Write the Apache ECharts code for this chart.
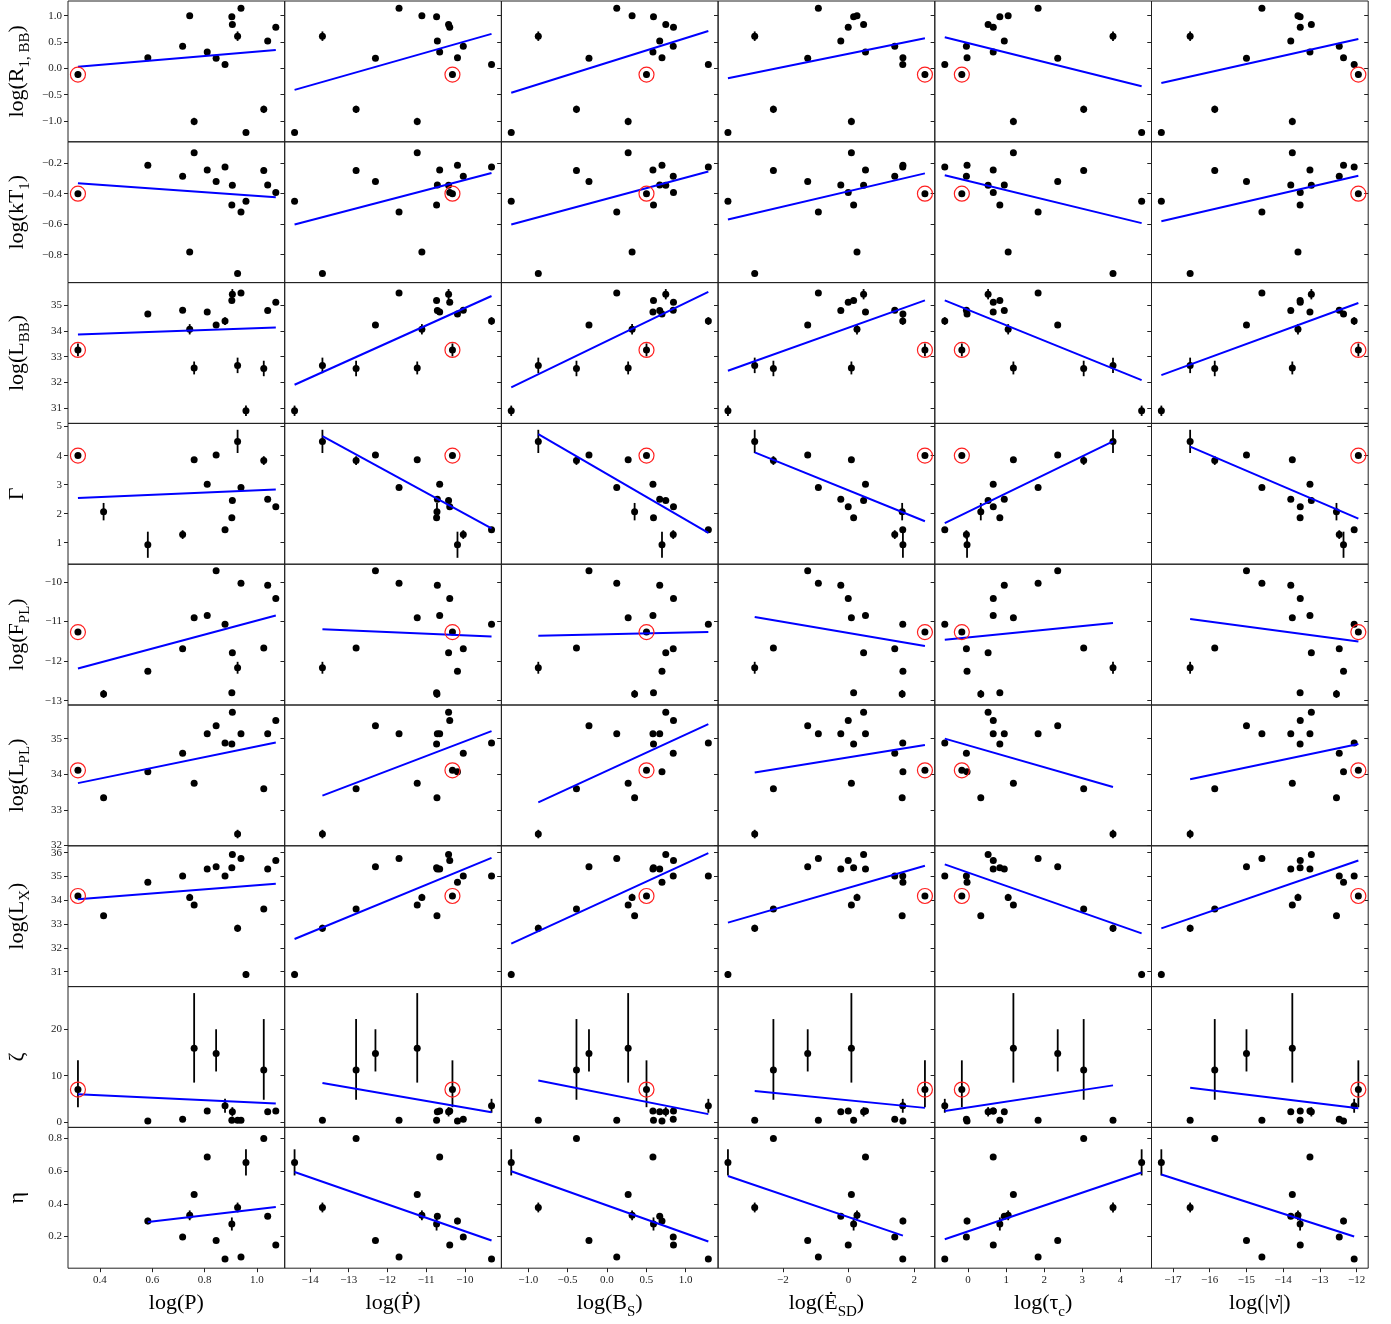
<!DOCTYPE html>
<html><head><meta charset="utf-8">
<script src="https://cdn.jsdelivr.net/npm/echarts@6/dist/echarts.min.js"></script>
<style>html,body{margin:0;padding:0;background:#fff}#c{width:1391px;height:1324px}</style>
</head><body><div id="c"></div>
<script>
// ---- sources (17), index 0 is the circled one ----
const logP     = [0.316, 0.414, 0.583, 0.716, 0.743, 0.760, 0.810, 0.844, 0.878, 0.904, 0.906, 0.926, 0.939, 0.958, 1.026, 1.041, 1.072];
const logPdot  = [-10.32, -10.72, -10.19, -10.04, -11.11, -11.23, -10.65, -12.31, -9.31, -10.73, -10.42, -13.68, -11.70, -14.40, -12.81, -10.71, -10.39];
const logBs    = [0.503, 0.352, 0.700, 0.843, 0.320, 0.270, 0.585, -0.228, 1.289, 0.592, 0.748, -0.872, 0.125, -1.216, -0.387, 0.671, 0.846];
const logEdot  = [2.329, 1.635, 1.658, 1.409, 0.258, 0.087, 0.517, -1.245, 1.653, 0.155, 0.459, -2.861, -0.920, -3.677, -2.291, -0.236, -0.009];
const logTauC  = [-0.164, 0.334, -0.027, -0.044, 1.053, 1.190, 0.660, 2.354, -0.612, 0.834, 0.526, 3.806, 1.839, 4.558, 3.036, 0.951, 0.662];
const logNuDot = [-11.952, -12.548, -12.356, -12.472, -13.596, -13.750, -13.270, -14.998, -12.066, -13.538, -13.232, -16.532, -14.578, -17.316, -15.862, -13.792, -13.534];

const logR1BB = [-0.12, null, 0.20, 0.42, 1.00, -1.01, 0.31, 0.19, 0.07, 0.98, 0.83, 0.61, 1.14, -1.22, -0.78, 0.52, 0.78];
const logkT1  = [-0.40, null, -0.214, -0.286, -0.783, -0.131, -0.245, -0.321, -0.226, -0.474, -0.345, -0.924, -0.521, -0.45, -0.248, -0.343, -0.393];
const logLBB  = [33.26, null, 34.65, 34.80, 34.06, 32.56, 34.73, 34.23, 34.38, 35.18, 35.42, 32.66, 35.47, 30.90, 32.54, 34.79, 35.11];
const Gamma   = [4.00, 2.07, 0.93, 1.28, null, 3.86, 3.01, 4.02, 1.45, 1.86, 2.45, 4.49, 2.90, null, 3.83, 2.50, 2.24];
const logFPL  = [-11.27, -12.83, -12.26, -11.69, null, -10.91, -10.85, -9.72, -11.07, -12.80, -11.79, -12.17, -10.04, null, -11.67, -10.09, -10.42];
const logLPL  = [34.11, 33.34, 34.07, 34.59, null, 33.75, 35.14, 35.36, 34.88, 34.85, 35.74, 32.32, 35.14, null, 33.59, 35.14, 35.51];
const logLX   = [34.18, 33.35, 34.76, 35.02, 34.12, 33.80, 35.31, 35.41, 35.02, 35.37, 35.92, 32.82, 35.76, 30.88, 33.63, 35.31, 35.67];
const zeta    = [7.0, null, 0.2, 0.6, null, 15.9, 2.4, 14.8, 3.5, 0.4, 2.2, 0.4, 0.4, null, 11.2, 2.2, 2.4];
const eta     = [null, null, 0.295, 0.197, 0.330, 0.458, 0.687, 0.176, 0.063, 0.277, null, 0.378, 0.075, 0.654, 0.80, 0.325, 0.149];

// ---- error bars (lower / upper deltas) ----
const errR1BB = [0.06, 0, 0, 0, 0, 0.07, 0, 0, 0, 0, 0, 0.09, 0, 0, 0.07, 0, 0];
const errkT1  = [0, 0, 0, 0, 0, 0, 0, 0, 0, 0, 0, 0, 0, 0, 0.02, 0, 0];
const errLBB  = [0.25, 0, 0, 0, 0.2, 0.25, 0, 0, 0.15, 0, 0.2, 0.3, 0, 0.2, 0.3, 0, 0];
const errGamma= [0, 0.3, 0.45, 0.15, 0, 0, 0, 0, 0, 0, 0, 0.4, 0, 0, 0.15, 0, 0];
const errFPL  = [0, 0.1, 0, 0, 0, 0, 0, 0, 0, 0, 0, 0.15, 0, 0, 0, 0, 0];
const errLPL  = [0, 0.08, 0, 0, 0, 0, 0, 0, 0, 0, 0, 0.12, 0, 0, 0, 0, 0];
const errLX   = [0, 0, 0, 0, 0.15, 0, 0, 0, 0, 0, 0, 0.15, 0, 0.15, 0, 0, 0];
const errZetaLo = [3.8, 0, 0, 0, 0, 7.4, 0, 3.9, 1.5, 0, 1.0, 0, 0, 0, 6.4, 0, 0];
const errZetaHi = [6.3, 0, 0, 0, 0, 11.9, 0, 5.2, 1.5, 0, 1.0, 0, 0, 0, 11.0, 0, 0];
const errEta  = [0, 0, 0.02, 0, 0.03, 0, 0, 0, 0, 0.04, 0, 0.03, 0, 0.08, 0, 0, 0];

// ---- fitted lines: per row, per column [x0, y0, x1, y1] ----
const fitR1BB = [[0.316,0.028,1.072,0.347],[-14.40,-0.41,-9.31,0.653],[-1.216,-0.465,1.289,0.708],[-3.677,-0.19,2.329,0.57],[-0.612,0.59,4.558,-0.34],[-17.316,-0.28,-11.952,0.556]];
const fitkT1  = [[0.316,-0.331,1.072,-0.424],[-14.40,-0.602,-9.31,-0.264],[-1.216,-0.602,1.289,-0.255],[-3.677,-0.569,2.329,-0.267],[-0.612,-0.279,4.558,-0.593],[-17.316,-0.581,-11.952,-0.283]];
const fitLBB  = [[0.316,33.86,1.072,34.13],[-14.40,31.91,-9.31,35.35],[-1.216,31.81,1.289,35.51],[-3.677,32.45,2.329,35.18],[-0.612,35.18,4.558,32.09],[-17.316,32.28,-11.952,35.08]];
const fitGamma= [[0.316,2.54,1.072,2.83],[-13.68,4.675,-9.31,1.49],[-0.872,4.74,1.289,1.34],[-2.861,4.11,2.329,1.74],[-0.612,1.675,3.806,4.49],[-16.532,4.31,-11.952,1.83]];
const fitFPL  = [[0.316,-12.19,1.072,-10.85],[-13.68,-11.20,-9.31,-11.38],[-0.872,-11.36,1.289,-11.27],[-2.861,-10.89,2.329,-11.62],[-0.612,-11.46,3.806,-11.04],[-16.532,-10.94,-11.952,-11.51]];
const fitLPL  = [[0.316,33.75,1.072,34.89],[-13.68,33.40,-9.31,35.21],[-0.872,33.21,1.289,35.41],[-2.861,34.05,2.329,34.82],[-0.612,35.0,3.806,33.64],[-16.532,33.86,-11.952,34.85]];
const fitLX   = [[0.316,34.04,1.072,34.69],[-14.40,32.37,-9.31,35.78],[-1.216,32.18,1.289,35.98],[-3.677,33.06,2.329,35.45],[-0.612,35.51,4.558,32.61],[-17.316,32.82,-11.952,35.67]];
const fitZeta = [[0.316,6.0,1.072,4.0],[-13.68,8.4,-9.31,2.1],[-0.872,8.95,1.289,1.7],[-2.861,6.7,2.329,3.05],[-0.612,2.4,3.806,7.9],[-16.532,7.4,-11.952,2.95]];
const fitEta  = [[0.583,0.289,1.072,0.381],[-14.40,0.595,-9.31,0.176],[-1.216,0.60,1.289,0.17],[-3.677,0.571,1.658,0.206],[-0.612,0.184,4.558,0.592],[-17.316,0.58,-12.066,0.20]];

// ---- axes ----
const xLims  = [[0.278,1.106],[-14.655,-9.055],[-1.341,1.413],[-3.977,2.63],[-0.874,4.817],[-17.584,-11.684]];
const xTicks = [[0.4,0.6,0.8,1.0],[-14,-13,-12,-11,-10],[-1,-0.5,0,0.5,1],[-2,0,2],[0,1,2,3,4],[-17,-16,-15,-14,-13,-12]];
const xDec   = [1,0,1,0,0,0];
const yLims  = [[-1.396,1.278],[-0.983,-0.06],[30.41,35.87],[0.26,5.11],[-13.11,-9.556],[31.99,35.945],[30.37,36.29],[-1.16,29.2],[0.0065,0.868]];
const yTicks = [[-1,-0.5,0,0.5,1],[-0.8,-0.6,-0.4,-0.2],[31,32,33,34,35],[1,2,3,4,5],[-13,-12,-11,-10],[32,33,34,35],[31,32,33,34,35,36],[0,10,20],[0.2,0.4,0.6,0.8]];
const yDec   = [1,1,0,0,0,0,0,0,1];
const xNames = ['{n|log(P)}','{n|log(Ṗ)}','{n|log(B}{s|S}{n|)}','{n|log(Ė}{s|SD}{n|)}','{n|log(τ}{s|c}{n|)}','{n|log(|ν̇|)}'];
const yNames = ['{n|log(R}{s|1, BB}{n|)}','{n|log(kT}{s|1}{n|)}','{n|log(L}{s|BB}{n|)}','{n|Γ}','{n|log(F}{s|PL}{n|)}','{n|log(L}{s|PL}{n|)}','{n|log(L}{s|X}{n|)}','{n|ζ}','{n|η}'];

const xCols = [logP, logPdot, logBs, logEdot, logTauC, logNuDot];
const yRows = [logR1BB, logkT1, logLBB, Gamma, logFPL, logLPL, logLX, zeta, eta];
const yErrLo = [errR1BB, errkT1, errLBB, errGamma, errFPL, errLPL, errLX, errZetaLo, errEta];
const yErrHi = [errR1BB, errkT1, errLBB, errGamma, errFPL, errLPL, errLX, errZetaHi, errEta];
const fits = [fitR1BB, fitkT1, fitLBB, fitGamma, fitFPL, fitLPL, fitLX, fitZeta, fitEta];
const CIRCLED = 0;

const FONT = '"Liberation Serif","DejaVu Serif",serif';
const L0 = 68, T0 = 1, PW = 216.7, PH = 140.8;
const rich = {
  n: {fontFamily: FONT, fontSize: 22, color: '#000', lineHeight: 26, verticalAlign: 'top'},
  s: {fontFamily: FONT, fontSize: 15, color: '#000', lineHeight: 15, padding: [12,0,0,0], verticalAlign: 'top'}
};
const fmt = d => v => v.toFixed(d).replace('-', '\u2212');

const grid = [], xAxis = [], yAxis = [], series = [];
for (let r = 0; r < 9; r++) {
  for (let c = 0; c < 6; c++) {
    const gi = r * 6 + c;
    grid.push({left: L0 + c * PW, top: T0 + r * PH, width: PW, height: PH,
      show: true, borderColor: '#222', borderWidth: 1, backgroundColor: 'transparent'});
    const bottom = r === 8;
    xAxis.push({type: 'value', gridIndex: gi, min: xLims[c][0], max: xLims[c][1], position: 'bottom',
      axisLine: {show: false, onZero: false}, splitLine: {show: false},
      axisTick: {show: bottom, length: 4, lineStyle: {color: '#222'}, customValues: xTicks[c]},
      axisLabel: {show: bottom, customValues: xTicks[c], formatter: fmt(xDec[c]), fontFamily: FONT, fontSize: 11, color: '#222', margin: 6},
      name: bottom ? xNames[c] : '', nameLocation: 'middle', nameGap: 24,
      nameTextStyle: {rich: rich}
    });
    yAxis.push({type: 'value', gridIndex: gi, min: yLims[r][0], max: yLims[r][1], position: 'left',
      axisLine: {show: false, onZero: false}, splitLine: {show: false},
      axisTick: {show: true, length: 4, lineStyle: {color: '#222'}, customValues: yTicks[r]},
      axisLabel: {show: c === 0, customValues: yTicks[r], formatter: fmt(yDec[r]), fontFamily: FONT, fontSize: 11, color: '#222', margin: 6},
      name: c === 0 ? yNames[r] : '', nameLocation: 'middle', nameGap: 36, nameRotate: 90,
      nameTextStyle: {rich: rich}
    });
    yAxis.push({type: 'value', gridIndex: gi, min: yLims[r][0], max: yLims[r][1], position: 'right',
      axisLine: {show: false, onZero: false}, splitLine: {show: false},
      axisTick: {show: true, inside: true, length: 4, lineStyle: {color: '#222'}, customValues: yTicks[r]},
      axisLabel: {show: false}
    });
    const xs = xCols[c], ys = yRows[r];
    const pts = [], bars = [], circ = [];
    for (let i = 0; i < xs.length; i++) {
      if (ys[i] == null) continue;
      pts.push([xs[i], ys[i]]);
      const lo = yErrLo[r][i], hi = yErrHi[r][i];
      if (lo || hi) bars.push([xs[i], ys[i] - lo, ys[i] + hi]);
      if (i === CIRCLED) circ.push([xs[i], ys[i]]);
    }
    const yi = gi * 2;
    series.push({type: 'custom', xAxisIndex: gi, yAxisIndex: yi, z: 2, silent: true,
      data: bars, encode: {x: 0, y: [1, 2]},
      renderItem: (params, api) => {
        const a = api.coord([api.value(0), api.value(1)]);
        const b = api.coord([api.value(0), api.value(2)]);
        return {type: 'line', shape: {x1: a[0], y1: a[1], x2: b[0], y2: b[1]}, style: {stroke: '#000', lineWidth: 1.8}};
      }});
    series.push({type: 'scatter', xAxisIndex: gi, yAxisIndex: yi, z: 3, silent: true,
      data: pts, symbol: 'circle', symbolSize: 7, itemStyle: {color: '#000', opacity: 1}});
    const f = fits[r][c];
    series.push({type: 'line', xAxisIndex: gi, yAxisIndex: yi, z: 4, silent: true,
      data: [[f[0], f[1]], [f[2], f[3]]], showSymbol: false, symbol: 'none',
      lineStyle: {color: '#0000ff', width: 2}});
    series.push({type: 'scatter', xAxisIndex: gi, yAxisIndex: yi, z: 5, silent: true,
      data: circ, symbol: 'circle', symbolSize: 15,
      itemStyle: {color: 'rgba(0,0,0,0)', borderColor: '#ff2020', borderWidth: 1.2, opacity: 1}});
  }
}

const chart = echarts.init(document.getElementById('c'), null, {renderer: 'canvas'});
chart.setOption({animation: false, backgroundColor: '#fff', grid, xAxis, yAxis, series});
</script>
</body></html>
